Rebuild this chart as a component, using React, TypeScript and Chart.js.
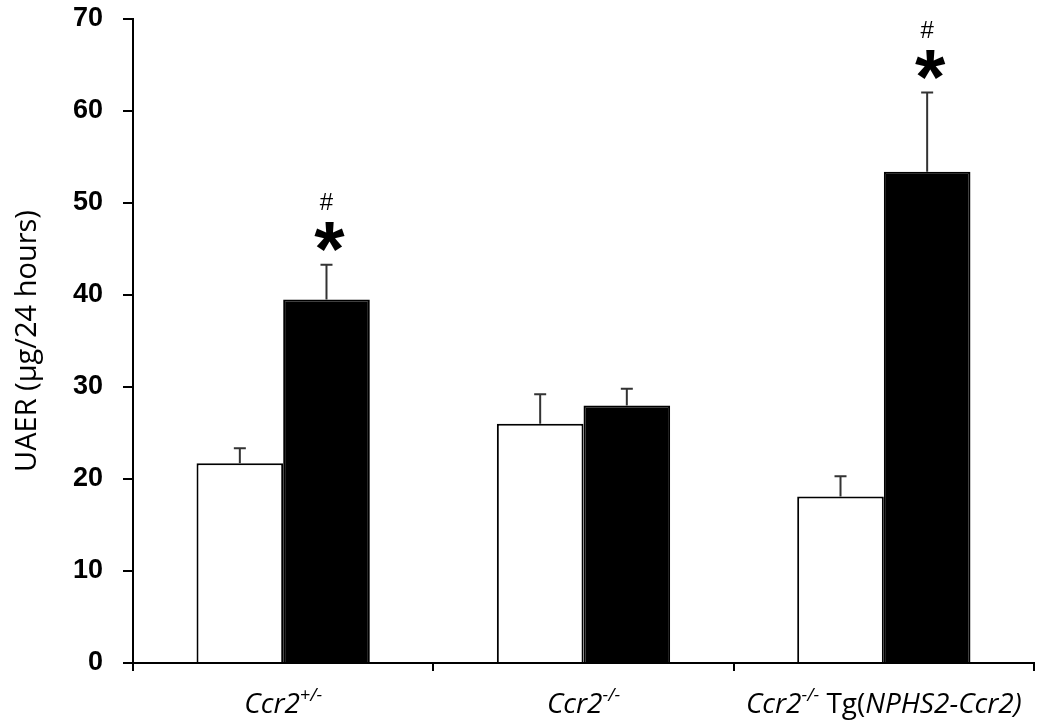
import React, { useEffect, useRef } from "react";
import { Chart, registerables } from "chart.js";

Chart.register(...registerables);

// ---- data ----
const categories = ["Ccr2+/-", "Ccr2-/-", "Ccr2-/- Tg(NPHS2-Ccr2)"];
const whiteValues = [21.7, 26.0, 18.1];
const whiteErrors = [1.65, 3.2, 2.2];
const blackValues = [39.5, 28.0, 53.4];
const blackErrors = [3.8, 1.8, 8.6];
const blackMarks = [["*", "#"], [], ["*", "#"]];
const yTicksMin = 0;
const yTicksMax = 70;
const yTickStep = 10;
const yTitle = "UAER (µg/24 hours)";

// rich label pieces: text, italic, superscript
const labelParts: { t: string; i: boolean; sup?: boolean }[][] = [
  [
    { t: "Ccr2", i: true },
    { t: "+/-", i: true, sup: true },
  ],
  [
    { t: "Ccr2", i: true },
    { t: "-/-", i: true, sup: true },
  ],
  [
    { t: "Ccr2", i: true },
    { t: "-/-", i: true, sup: true },
    { t: " Tg(", i: false },
    { t: "NPHS2-Ccr2)", i: true },
  ],
];

const LABEL_FONT = "'Open Sans', 'DejaVu Sans', sans-serif";

function centeredText(ctx: CanvasRenderingContext2D, s: string, x: number, cy: number) {
  const mt = ctx.measureText(s);
  const a = mt.actualBoundingBoxAscent;
  const d = mt.actualBoundingBoxDescent;
  ctx.fillText(s, x, cy + (a - d) / 2);
}

const overlay = {
  id: "overlay",
  afterDatasetsDraw(chart: any) {
    const ctx = chart.ctx as CanvasRenderingContext2D;
    const yScale = chart.scales.y;
    const xScale = chart.scales.x;
    const errs = [whiteErrors, blackErrors];
    const vals = [whiteValues, blackValues];
    ctx.save();
    // error bars
    for (let d = 0; d < 2; d++) {
      const meta = chart.getDatasetMeta(d);
      meta.data.forEach((el: any, j: number) => {
        const x = el.x;
        const yb = yScale.getPixelForValue(vals[d][j]);
        const yt = yScale.getPixelForValue(vals[d][j] + errs[d][j]);
        ctx.strokeStyle = "#333";
        ctx.lineWidth = 2;
        ctx.beginPath();
        ctx.moveTo(x, yb);
        ctx.lineTo(x, yt);
        ctx.moveTo(x - 6, yt);
        ctx.lineTo(x + 6, yt);
        ctx.stroke();
      });
    }
    // significance marks
    const bmeta = chart.getDatasetMeta(1);
    bmeta.data.forEach((el: any, j: number) => {
      const marks = blackMarks[j];
      if (!marks.length) return;
      const yt = yScale.getPixelForValue(blackValues[j] + blackErrors[j]);
      ctx.fillStyle = "#000";
      ctx.textAlign = "center";
      ctx.textBaseline = "alphabetic";
      marks.forEach((m) => {
        if (m === "*") {
          ctx.font = "bold 78px 'Liberation Sans', Arial, sans-serif";
          centeredText(ctx, "*", el.x + 3, yt - 28);
        } else {
          ctx.font = "24px 'Liberation Sans', Arial, sans-serif";
          centeredText(ctx, "#", el.x, yt - 63);
        }
      });
    });
    // x labels
    const baseY = chart.chartArea.bottom + 50;
    categories.forEach((_, j) => {
      const parts = labelParts[j];
      const fontFor = (p: any) =>
        `${p.i ? "italic " : ""}${p.sup ? 18 : 28}px ${LABEL_FONT}`;
      let total = 0;
      const widths = parts.map((p) => {
        ctx.font = fontFor(p);
        const w = ctx.measureText(p.t).width;
        total += w;
        return w;
      });
      let x = xScale.getPixelForValue(j) - total / 2;
      ctx.textAlign = "left";
      ctx.textBaseline = "alphabetic";
      parts.forEach((p, k) => {
        ctx.font = fontFor(p);
        ctx.fillText(p.t, x, p.sup ? baseY - 12 : baseY);
        x += widths[k];
      });
    });
    ctx.restore();
  },
};

export default function App() {
  const ref = useRef<HTMLCanvasElement | null>(null);
  useEffect(() => {
    if (!ref.current) return;
    const chart = new Chart(ref.current, {
      type: "bar",
      data: {
        labels: categories,
        datasets: [
          {
            label: "white",
            data: whiteValues,
            backgroundColor: "#ffffff",
            borderColor: "#000000",
            borderWidth: 2,
            barPercentage: 1,
            categoryPercentage: 0.577,
          },
          {
            label: "black",
            data: blackValues,
            backgroundColor: "#000000",
            borderColor: "#000000",
            borderWidth: 2,
            barPercentage: 1,
            categoryPercentage: 0.577,
          },
        ],
      },
      options: {
        responsive: false,
        animation: false,
        layout: { padding: { top: 19, right: 16, left: 0, bottom: 0 } },
        plugins: { legend: { display: false }, tooltip: { enabled: false } },
        scales: {
          x: {
            offset: true,
            grid: {
              display: true,
              offset: true,
              drawOnChartArea: false,
              drawTicks: true,
              tickLength: 8,
              color: "#000",
              lineWidth: 2,
            },
            border: { color: "#000", width: 2 },
            ticks: { display: false },
            afterFit: (s: any) => {
              s.height = 64;
              s.paddingLeft = 0;
              s.paddingRight = 0;
            },
          },
          y: {
            min: yTicksMin,
            max: yTicksMax,
            ticks: {
              stepSize: yTickStep,
              color: "#000",
              padding: 20,
              font: { family: "'Liberation Sans', Arial, sans-serif", weight: "bold", size: 27 },
            },
            grid: {
              drawOnChartArea: false,
              drawTicks: true,
              tickLength: 10,
              color: "#000",
              lineWidth: 2,
            },
            border: { color: "#000", width: 2 },
            title: {
              display: true,
              text: yTitle,
              color: "#000",
              font: { family: LABEL_FONT, size: 29 },
              padding: { top: 10, bottom: 0 },
            },
            afterFit: (s: any) => {
              s.width = 133;
              s.paddingTop = 0;
              s.paddingBottom = 0;
            },
          },
        },
      },
      plugins: [overlay],
    } as any);
    return () => chart.destroy();
  }, []);
  return (
    <div style={{ position: "absolute", left: 0, top: 0, width: 1050, height: 727, background: "#fff" }}>
      <canvas ref={ref} width={1050} height={727} />
    </div>
  );
}
